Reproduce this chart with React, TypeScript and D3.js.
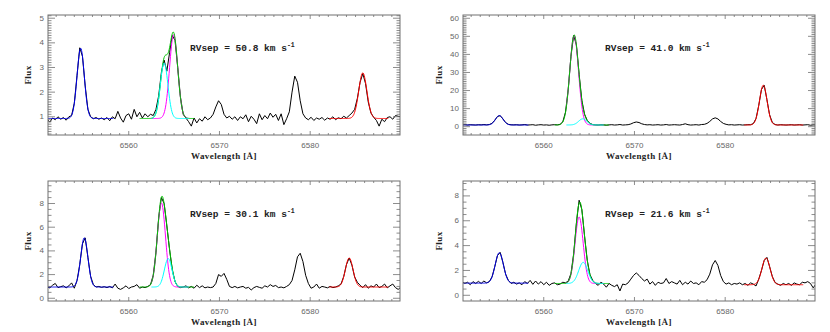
import React from 'react';
import * as d3 from 'd3';

// ---------- data ----------
const WAVE_START = 6551.0;
const WAVE_STEP = 0.3;
const X_DOMAIN: [number, number] = [6551.1, 6589.9];
const X_TICKS = [6560, 6570, 6580];

const flux1 = [
  0.9, 0.78, 0.95, 0.88, 1.0, 0.9, 0.97, 0.86, 1.0, 1.05,
  1.55, 2.67, 3.8, 3.45, 2.25, 1.3, 1.0, 0.92, 0.97, 0.9,
  0.95, 0.88, 0.97, 0.84, 1.0, 0.92, 1.22, 0.95, 0.78, 1.05,
  1.12, 0.9, 1.3, 1.0, 1.18, 0.95, 1.12, 1.0, 1.1, 1.05,
  1.3, 1.85, 2.8, 3.3, 2.85, 3.6, 4.3, 4.1, 3.0, 1.8,
  1.1, 0.95, 0.8, 0.62, 0.95, 0.75, 0.92, 0.82, 1.0, 0.88,
  0.95, 1.1, 1.4, 1.65, 1.5, 1.1, 0.95, 1.02, 0.9, 1.0,
  0.85, 1.0, 0.92, 1.08, 0.8, 1.02, 0.9, 0.72, 1.12, 0.88,
  1.05, 0.92, 1.15, 0.98, 1.1, 0.85, 1.12, 0.68, 0.92, 1.2,
  2.0, 2.65, 2.4, 1.65, 1.12, 0.95, 0.88, 0.98, 0.85, 0.95,
  0.9, 0.97, 0.86, 0.95, 0.9, 1.0, 0.88, 0.96, 0.92, 1.02,
  0.95, 1.05, 1.15, 1.3, 1.75, 2.4, 2.75, 2.35, 1.6, 1.15,
  0.98, 0.85, 0.62, 0.9, 0.8, 0.97, 1.0, 0.9, 1.05, 1.02,
  1.0,
];
const flux2 = [
  1.0, 1.2, 0.9, 1.1, 1.0, 0.9, 1.1, 1.0, 1.2, 1.0,
  1.2, 1.85, 3.55, 5.65, 6.1, 4.3, 2.3, 1.3, 1.05, 1.0,
  1.1, 0.9, 1.0, 1.2, 0.9, 1.0, 1.1, 0.8, 1.0, 1.1,
  0.9, 1.0, 0.8, 1.0, 1.1, 1.0, 1.3, 2.7, 8.0, 20.8,
  39.0, 50.5, 45.2, 29.0, 14.6, 6.9, 3.4, 1.8, 1.2, 1.0,
  0.9, 1.1, 1.0, 0.8, 1.0, 1.1, 0.9, 1.0, 1.2, 0.9,
  1.0, 1.1, 1.5, 2.2, 2.6, 2.3, 1.6, 1.2, 1.0, 1.1,
  0.9, 1.0, 1.1, 0.9, 1.0, 1.2, 0.9, 1.0, 1.1, 1.0,
  0.9, 1.2, 1.6, 1.1, 0.9, 1.0, 1.1, 0.9, 1.2, 1.3,
  1.8, 2.9, 4.3, 4.9, 4.3, 2.9, 1.8, 1.3, 1.0, 1.1,
  0.9, 1.0, 1.1, 0.9, 1.0, 1.1, 1.1, 1.7, 4.5, 11.8,
  20.6, 22.9, 15.0, 6.5, 2.3, 1.2, 0.9, 1.1, 1.0, 0.9,
  1.0, 1.1, 0.9, 1.0, 1.1, 0.9, 1.0, 1.1, 0.8, 1.0,
  1.0,
];
const flux3 = [
  0.95, 0.88, 1.1, 1.25, 0.9, 0.98, 1.05, 0.88, 1.05, 1.3,
  0.85, 1.5, 2.85, 4.6, 5.1, 3.45, 1.85, 1.15, 0.95, 1.0,
  0.92, 0.98, 0.9, 1.0, 0.88, 1.2, 0.85, 0.75, 0.88, 1.05,
  0.82, 0.95, 1.0, 1.15, 0.85, 0.95, 0.9, 1.0, 1.15, 1.95,
  3.9, 6.8, 8.5, 8.0, 6.1, 4.1, 2.4, 1.4, 1.0, 0.9,
  0.95, 1.05, 0.88, 1.0, 0.85, 1.1, 0.9, 1.05, 0.88, 0.95,
  0.9, 0.95, 1.25, 2.0, 1.85, 2.1, 1.6, 1.0, 0.9, 1.0,
  0.88, 0.95, 1.0, 0.85, 0.92, 0.7, 0.9, 1.0, 0.92, 0.85,
  1.05, 0.95, 1.15, 1.0, 1.08, 0.9, 0.95, 0.88, 1.0, 1.15,
  1.5, 2.4, 3.5, 3.8, 3.1, 1.94, 1.25, 0.85, 0.95, 1.2,
  0.85, 1.0, 0.95, 0.88, 1.0, 0.9, 0.95, 1.05, 1.2, 1.85,
  2.85, 3.4, 2.8, 1.8, 1.35, 1.1, 0.9, 1.15, 0.85, 1.05,
  0.95, 1.2, 0.9, 1.0, 1.2, 0.88, 1.05, 1.2, 0.9, 0.75,
  0.95,
];
const flux4 = [
  1.1, 0.95, 1.05, 0.85, 1.1, 0.95, 1.12, 0.95, 1.15, 1.0,
  1.1, 1.48, 2.3, 3.2, 3.45, 2.65, 1.7, 1.2, 0.95, 1.05,
  0.9, 1.0, 0.85, 1.1, 0.95, 1.2, 0.88, 1.15, 0.9, 1.1,
  0.85, 1.05, 0.8, 0.95, 1.0, 0.85, 0.9, 1.05, 1.0, 1.15,
  1.75, 3.35, 5.8, 7.65, 6.9, 4.75, 2.8, 1.65, 1.2, 0.95,
  0.8, 1.05, 0.9, 0.65, 0.95, 0.8, 0.7, 0.85, 0.35, 0.9,
  0.85, 1.0, 1.3, 1.6, 1.8, 1.6, 1.35, 1.15, 1.3, 0.9,
  1.1, 0.8, 1.05, 0.95, 1.0, 1.35, 0.95, 1.1, 1.0, 0.9,
  1.2, 0.85, 1.05, 0.9, 1.15, 0.95, 1.0, 0.85, 1.1, 1.05,
  1.25, 1.7, 2.45, 2.8, 2.4, 1.6, 1.1, 0.9, 1.0, 0.85,
  0.95, 0.9, 1.0, 0.85, 0.95, 0.8, 1.0, 0.9, 0.75, 1.3,
  2.0, 2.8, 3.05, 2.3, 1.5, 1.03, 0.9, 0.8, 0.95, 0.85,
  0.95, 0.8, 1.0, 0.9, 0.85, 1.05, 1.0, 1.1, 0.95, 0.6,
  0.9,
];
const FLUXES = [flux1, flux2, flux3, flux4];

const RVSEP = ['50.8', '41.0', '30.1', '21.6'];
const Y_DOMAINS: [number, number][] = [[0.26, 5.13], [-4.6, 61.8], [-0.23, 9.9], [-0.46, 9.2]];
const Y_TICKS = [[1, 2, 3, 4, 5], [0, 10, 20, 30, 40, 50, 60], [0, 2, 4, 6, 8], [0, 2, 4, 6, 8]];
const Y_MINOR_STEP = [0.1, 1, 0.5, 0.5];

// Gaussian fit parameters: [center, amplitude, sigma]
const BLUE_FIT = [[6554.7, 2.85, 0.4], [6555.1, 5.2, 0.42], [6555.1, 4.15, 0.4], [6555.1, 2.45, 0.45]];
const BLUE_CONT = [0.93, 0.95, 0.95, 0.98];
const MAGENTA_FIT = [[6564.95, 3.4, 0.45], [6563.35, 49.5, 0.48], [6563.6, 7.1, 0.45], [6563.9, 5.35, 0.45]];
const CYAN_FIT = [[6563.9, 2.25, 0.42], [6564.3, 3.4, 0.45], [6564.35, 2.4, 0.42], [6564.35, 1.7, 0.5]];
const HA_CONT = [0.93, 0.95, 0.95, 0.95];
const RED_FIT = [[6585.8, 1.85, 0.45], [6584.2, 22.0, 0.42], [6584.3, 2.45, 0.42], [6584.5, 2.15, 0.45]];
const RED_CONT = [0.93, 0.95, 0.95, 0.85];

const BLUE_RANGE: [number, number] = [6551.1, 6558.3];
const HA_RANGE: [number, number] = [6561.2, 6567.2];
const COMP_RANGE: [number, number] = [6562.5, 6566.6];
const RED_RANGE: [number, number] = [6582.1, 6588.6];

// ---------- layout ----------
const PANEL_LEFT = [48, 463, 48, 463];
const PANEL_TOP = [15, 15, 181, 181];
const PW = 352;
const PH = 120;

const gauss = (x: number, p: number[]) => p[1] * Math.exp(-((x - p[0]) ** 2) / (2 * p[2] * p[2]));

function curve(range: [number, number], f: (x: number) => number) {
  const pts: [number, number][] = [];
  const n = Math.round((range[1] - range[0]) / 0.05);
  for (let i = 0; i <= n; i++) {
    const x = range[0] + i * 0.05;
    pts.push([x, f(x)]);
  }
  return pts;
}

function Panel({ idx }: { idx: number }) {
  const left = PANEL_LEFT[idx];
  const top = PANEL_TOP[idx];
  const x = d3.scaleLinear().domain(X_DOMAIN).range([0, PW]);
  const y = d3.scaleLinear().domain(Y_DOMAINS[idx]).range([PH, 0]);
  const line = d3.line<[number, number]>().x((d) => x(d[0])).y((d) => y(d[1]));

  const data: [number, number][] = FLUXES[idx].map((v, i) => [WAVE_START + i * WAVE_STEP, v]);
  const bc = BLUE_CONT[idx];
  const hc = HA_CONT[idx];
  const rc = RED_CONT[idx];
  const blue = curve(BLUE_RANGE, (w) => bc + gauss(w, BLUE_FIT[idx]));
  const green = curve(HA_RANGE, (w) => hc + gauss(w, MAGENTA_FIT[idx]) + gauss(w, CYAN_FIT[idx]));
  const mag = curve(COMP_RANGE, (w) => hc + gauss(w, MAGENTA_FIT[idx]));
  const cyan = curve(COMP_RANGE, (w) => hc + gauss(w, CYAN_FIT[idx]));
  const red = curve(RED_RANGE, (w) => rc + gauss(w, RED_FIT[idx]));

  const [y0, y1] = Y_DOMAINS[idx];
  const ms = Y_MINOR_STEP[idx];
  const yMinor: number[] = [];
  for (let v = Math.ceil(y0 / ms) * ms; v <= y1 + 1e-9; v += ms) yMinor.push(+v.toFixed(4));
  const xMinor: number[] = [];
  for (let v = Math.ceil(X_DOMAIN[0]); v <= X_DOMAIN[1]; v += 1) xMinor.push(v);

  const frame = '#707070';
  const clipId = `clip${idx}`;
  const yMajLen = 7, yMinLen = 3.5, xMajLen = 4, xMinLen = 2;

  return (
    <g transform={`translate(${left},${top})`}>
      <defs>
        <clipPath id={clipId}>
          <rect x={0} y={0} width={PW} height={PH} />
        </clipPath>
      </defs>
      <g clipPath={`url(#${clipId})`} fill="none" strokeWidth={1} strokeLinejoin="round">
        <path d={line(data) || ''} stroke="#000" />
        <path d={line(blue) || ''} stroke="#0000ee" />
        <path d={line(mag) || ''} stroke="#ff00ff" />
        <path d={line(green) || ''} stroke="#00c000" />
        <path d={line(cyan) || ''} stroke="#00ffff" />
        <path d={line(red) || ''} stroke="#ff0000" />
      </g>
      <g stroke={frame} strokeWidth={0.8}>
        {yMinor.map((v) => {
          const major = Y_TICKS[idx].some((t) => Math.abs(t - v) < 1e-6);
          const l = major ? yMajLen : yMinLen;
          return (
            <g key={'y' + v}>
              <line x1={0} x2={l} y1={y(v)} y2={y(v)} />
              <line x1={PW} x2={PW - l} y1={y(v)} y2={y(v)} />
            </g>
          );
        })}
        {xMinor.map((v) => {
          const major = X_TICKS.includes(v);
          const l = major ? xMajLen : xMinLen;
          return (
            <g key={'x' + v}>
              <line x1={x(v)} x2={x(v)} y1={PH} y2={PH - l} />
              <line x1={x(v)} x2={x(v)} y1={0} y2={l} />
            </g>
          );
        })}
        <rect x={0} y={0} width={PW} height={PH} fill="none" strokeWidth={1} />
      </g>
      <g fontFamily="'Liberation Sans', Arial, sans-serif" fontSize={8} fill="#666">
        {Y_TICKS[idx].map((t) => (
          <text key={t} x={-4} y={y(t)} textAnchor="end" dominantBaseline="central">
            {t}
          </text>
        ))}
        {X_TICKS.map((t) => (
          <text key={t} x={x(t)} y={PH + 13} textAnchor="middle">
            {t}
          </text>
        ))}
      </g>
      <text
        x={PW / 2}
        y={PH + 24}
        textAnchor="middle"
        fontFamily="'Liberation Serif', serif"
        fontWeight="bold"
        fontSize={9}
        letterSpacing={0.4}
        fill="#222"
      >
        Wavelength [Å]
      </text>
      <text
        transform={`translate(${idx % 2 === 0 ? -17 : -21},${PH / 2}) rotate(-90)`}
        textAnchor="middle"
        fontFamily="'Liberation Serif', serif"
        fontWeight="bold"
        fontSize={9}
        letterSpacing={0.4}
        fill="#222"
      >
        Flux
      </text>
      <text
        x={142}
        y={36}
        fontFamily="'Liberation Mono', monospace"
        fontSize={9.5}
        fontWeight="bold"
        fill="#222"
      >
        {`RVsep = ${RVSEP[idx]} km s`}
        <tspan dy={-4} fontSize={6.5}>-1</tspan>
      </text>
    </g>
  );
}

export default function App() {
  return (
    <svg
      width={830}
      height={332}
      style={{ position: 'absolute', left: 0, top: 0, background: '#fff' }}
    >
      <rect width={830} height={332} fill="#fff" />
      {[0, 1, 2, 3].map((i) => (
        <Panel key={i} idx={i} />
      ))}
    </svg>
  );
}
